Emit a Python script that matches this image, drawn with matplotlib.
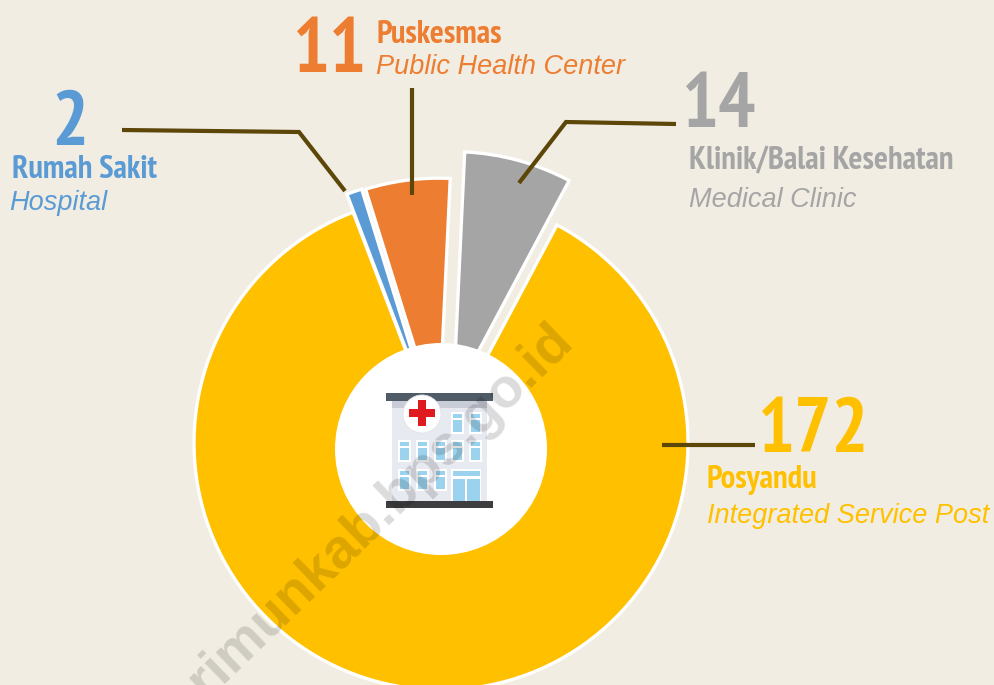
import matplotlib
matplotlib.use("Agg")
import matplotlib.pyplot as plt
from matplotlib.patches import Circle, Rectangle

categories = ["Posyandu", "Rumah Sakit", "Puskesmas", "Klinik/Balai Kesehatan"]
english = ["Integrated Service Post", "Hospital", "Public Health Center", "Medical Clinic"]
values = [172, 2, 11, 14]
colors = ["#FFC000", "#5B9BD5", "#ED7D31", "#A5A5A5"]
explode = [0, 19, 18, 46]

BG = "#F1EDE2"
LINE = "#5C4708"
H = 685
HEAD = ["PT Sans Narrow", "Economica", "Liberation Sans", "DejaVu Sans"]
ITAL = ["Liberation Sans", "DejaVu Sans"]


def Y(y):
    return H - y


fig = plt.figure(figsize=(9.95, 6.85), dpi=100, facecolor=BG)
ax = fig.add_axes([0, 0, 1, 1])

ax.pie(values, colors=colors, explode=explode, radius=247, center=(441, Y(443)),
       startangle=62, counterclock=False,
       wedgeprops={"edgecolor": "white", "linewidth": 2.4})
ax.set_xlim(0, 995)
ax.set_ylim(0, H)
ax.set_aspect("auto")
ax.axis("off")

# hole
ax.add_patch(Circle((441, Y(449)), 106, fc="white", ec="none", zorder=5))


# little hospital icon, pixel boxes
def box(x0, y0, x1, y1, c, z=6):
    ax.add_patch(Rectangle((x0, Y(y1)), x1 - x0, y1 - y0, fc=c, ec="none", zorder=z))


box(392, 401, 487, 501, "#E8EAF2")
box(392, 401, 487, 408, "#C9CDD8")
box(386, 393, 493, 401, "#4F5B66", 7)
box(386, 501, 493, 508, "#3E3E40", 7)
win_x = [400, 418, 436, 453, 471]
for wx, rows in zip(win_x, [[442, 471], [442, 471], [442, 471], [414, 442], [414, 442]]):
    for wy in rows:
        box(wx - 2, wy - 2, wx + 11, wy + 20, "white", 7)
        box(wx, wy, wx + 9, wy + 3.5, "#9BD3EE", 8)
        box(wx, wy + 6, wx + 9, wy + 18, "#9BD3EE", 8)
box(451, 469, 481, 501, "white", 7)
box(453, 471, 480, 476, "#9BD3EE", 8)
box(453, 479, 465, 501, "#9BD3EE", 8)
box(467, 479, 480, 501, "#9BD3EE", 8)
ax.add_patch(Circle((422, Y(414)), 19, fc="white", ec="#E3E3E8", lw=0.6, zorder=9))
box(418, 400, 426, 426, "#E01B1F", 10)
box(409, 409, 435, 417, "#E01B1F", 10)

# leader lines
leaders = [
    ([122, 299, 345], [130, 132, 191]),
    ([412, 412], [88, 195]),
    ([676, 566, 519], [124, 122, 183]),
    ([662, 755], [445, 445]),
]
for lx, ly in leaders:
    ax.plot(lx, [Y(v) for v in ly], color=LINE, lw=3.0, solid_joinstyle="miter",
            solid_capstyle="butt", zorder=6)


def label(x, y, s, c, size, fam=HEAD, ha="left", **kw):
    ax.text(x, Y(y), s, color=c, fontsize=size, family=fam, ha=ha, va="baseline", zorder=12, **kw)


# numbers
label(70, 145, str(values[1]), colors[1], 56, ha="center", weight="bold")
label(330, 72, str(values[2]), colors[2], 56, ha="center", weight="bold")
label(719, 127, str(values[3]), colors[3], 56, ha="center", weight="bold")
label(814, 452, str(values[0]), colors[0], 56, ha="center", weight="bold")

# indonesian names
label(12, 178, categories[1], colors[1], 23.5, weight="bold")
label(377, 43, categories[2], colors[2], 23.5, weight="bold")
label(689, 169, categories[3], colors[3], 23.5, weight="bold")
label(707, 488, categories[0], colors[0], 23.5, weight="bold")

# english names
label(9, 210, english[1], colors[1], 19.5, fam=ITAL, style="italic")
label(376, 74, english[2], colors[2], 19.5, fam=ITAL, style="italic")
label(689, 207, english[3], colors[3], 19.5, fam=ITAL, style="italic")
label(707, 523, english[0], colors[0], 19.5, fam=ITAL, style="italic")

# watermark
ax.text(565, Y(333), "karimunkab.bps.go.id", color="black", alpha=0.14, fontsize=40,
        family=ITAL, weight="bold", rotation=44, rotation_mode="anchor",
        ha="right", va="center", zorder=20)

fig.savefig("out.png", dpi=100, facecolor=BG)
